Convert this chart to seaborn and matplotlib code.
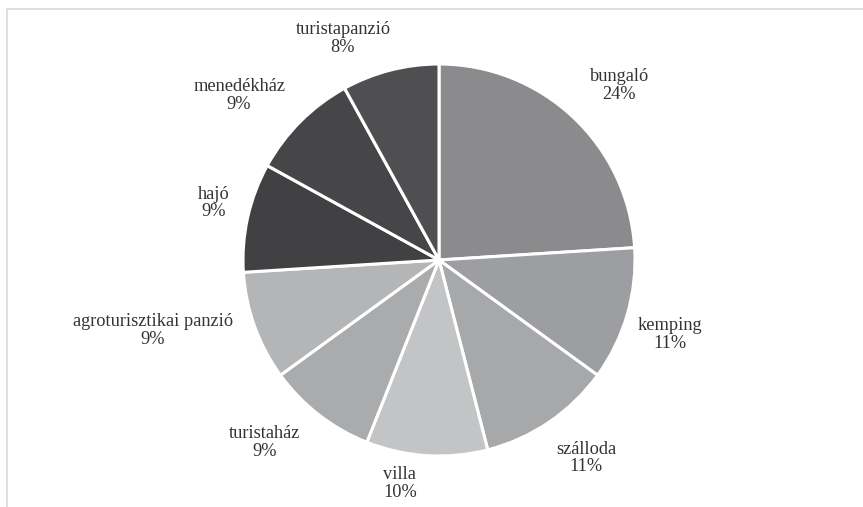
import matplotlib
matplotlib.use("Agg")
import matplotlib.pyplot as plt
import seaborn as sns

# data
categories = ["bungaló", "kemping", "szálloda", "villa", "turistaház",
              "agroturisztikai panzió", "hajó", "menedékház", "turistapanzió"]
shares = [24, 11, 11, 10, 9, 9, 9, 9, 8]

# greys of the slices, same order as categories
slice_colors = ["#8b8b8e", "#9d9ea1", "#a7a8aa", "#c3c4c6", "#aaabad",
                "#b4b5b7", "#414143", "#464648", "#4f4f51"]

# label centres, in units of the pie radius relative to the pie centre
label_offsets = [(0.92, 0.89), (1.18, -0.38), (0.75, -1.01), (-0.20, -1.14),
                 (-0.89, -0.93), (-1.46, -0.36), (-1.15, 0.29),
                 (-1.02, 0.84), (-0.49, 1.13)]

sns.set_theme(style="white")
plt.rcParams["font.family"] = ["Liberation Serif", "DejaVu Serif"]

W, H = 863, 507
fig = plt.figure(figsize=(W / 100, H / 100), dpi=100)
ax = fig.add_axes([0, 0, 1, 1])

cx, cy, r = 439, H - 260, 196
wedges, _ = ax.pie(shares, colors=slice_colors, startangle=90, counterclock=False,
                   center=(cx, cy), radius=r, frame=True,
                   wedgeprops=dict(edgecolor="white", linewidth=2.2))

for name, val, (ox, oy) in zip(categories, shares, label_offsets):
    ax.text(cx + ox * r, cy + oy * r, f"{name}\n{val}%", ha="center", va="center",
            fontsize=13.2, color="#333333", linespacing=1.05)

# thin outer frame (top and left visible in the reference)
ax.plot([7, 7, W], [0, H - 9, H - 9], color="#d9d9d9", lw=1.2)

ax.set_xlim(0, W)
ax.set_ylim(0, H)
ax.set_aspect("equal")
ax.axis("off")

fig.savefig("out.png", dpi=100, facecolor="white")
